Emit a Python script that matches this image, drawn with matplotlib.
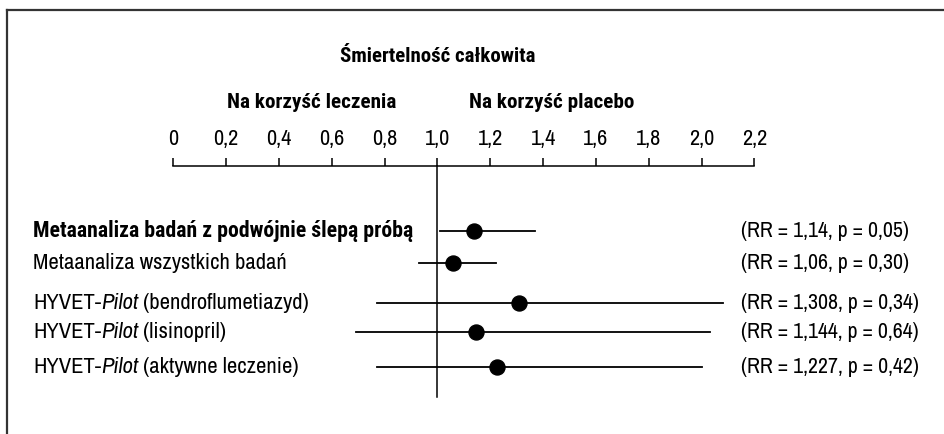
import matplotlib.pyplot as plt
from matplotlib import transforms
from matplotlib import font_manager as fm

plt.rcParams['font.family'] = ['Archivo Narrow', 'DejaVu Sans']


def find_bold(families):
    # first condensed family that has a real static bold face
    for fam in families:
        best = None
        for f in fm.fontManager.ttflist:
            w = f.weight if isinstance(f.weight, int) else fm.weight_dict.get(f.weight, 400)
            if f.name == fam and f.style == "normal" and 600 <= w <= 800:
                if best is None or abs(w - 700) < abs(best[0] - 700):
                    best = (w, f.fname)
        if best:
            return best[1]
    return None


bold_path = find_bold(["Archivo Narrow", "Roboto Condensed", "PT Sans Narrow",
                       "Liberation Sans Narrow", "Barlow Semi Condensed", "Asap Condensed"])


def bold(size):
    if bold_path:
        return fm.FontProperties(fname=bold_path, size=size)
    return fm.FontProperties(family="DejaVu Sans", weight="bold", size=size)


# Forest plot data (relative risk with 95% CI)
labels = [
    ("Metaanaliza badań z podwójnie ślepą próbą", None, None),
    ("Metaanaliza wszystkich badań", None, None),
    ("HYVET-", "Pilot", " (bendroflumetiazyd)"),
    ("HYVET-", "Pilot", " (lisinopril)"),
    ("HYVET-", "Pilot", " (aktywne leczenie)"),
]
rr = [1.14, 1.06, 1.308, 1.144, 1.227]
ci_low = [1.01, 0.93, 0.77, 0.69, 0.77]
ci_high = [1.37, 1.22, 2.08, 2.03, 2.00]
rr_text = ["1,14", "1,06", "1,308", "1,144", "1,227"]
p_text = ["0,05", "0,30", "0,34", "0,64", "0,42"]
ticks = [0, 0.2, 0.4, 0.6, 0.8, 1.0, 1.2, 1.4, 1.6, 1.8, 2.0, 2.2]

W, H = 944, 434
fig = plt.figure(figsize=(W / 100, H / 100), dpi=100)

# axes: x 0..2.2 between px 173..754, y from axis line (166) to 397
top_px, bot_px = 166, 397
ax = fig.add_axes([173.4 / W, 1 - bot_px / H, (754.4 - 173.4) / W, (bot_px - top_px) / H])
ax.set_xlim(0, 2.2)
ax.set_ylim(bot_px, top_px)
row_y = [231, 263, 303, 332, 367]

for s in ("left", "right", "bottom"):
    ax.spines[s].set_visible(False)
ax.spines["top"].set_linewidth(1.1)
ax.xaxis.set_ticks_position("top")
ax.set_xticks(ticks)
ax.set_xticklabels([f"{t:.1f}".replace(".", ",") if t else "0" for t in ticks])
ax.tick_params(axis="x", direction="out", length=6, width=1.1, pad=6, labelsize=16)
ax.set_yticks([])
ax.patch.set_alpha(0)

ax.plot([1.0, 1.0], [top_px, bot_px], color="black", lw=1.1, clip_on=False)

for i in range(len(rr)):
    y = row_y[i]
    ax.plot([ci_low[i], ci_high[i]], [y, y], color="black", lw=1.3, clip_on=False)
    ax.plot(rr[i], y, "o", color="black", ms=10.8, clip_on=False)

fs = 16.3
trans = transforms.blended_transform_factory(fig.transFigure, ax.transData)
for i, (a, b, c) in enumerate(labels):
    y = row_y[i]
    if b is None:
        if i == 0:
            ax.text(33 / W, y, a, transform=trans, va="center", ha="left", fontproperties=bold(15.7))
        else:
            ax.text(33 / W, y, a, transform=trans, va="center", ha="left", fontsize=fs)
    else:
        t = ax.text(33 / W, y, a, transform=trans, va="center", ha="left", fontsize=fs)
        t = ax.annotate(b, xy=(1, 0), xycoords=t, va="bottom", ha="left",
                        fontsize=fs, fontstyle="italic")
        ax.annotate(c, xy=(1, 0), xycoords=t, va="bottom", ha="left", fontsize=fs)
    ax.text(741 / W, y, f"(RR = {rr_text[i]}, p = {p_text[i]})", transform=trans,
            va="center", ha="left", fontsize=15.7)

# headings
hd = transforms.blended_transform_factory(ax.transData, fig.transFigure)
ax.text(1.0, 1 - 57 / H, "Śmiertelność całkowita", transform=hd,
        ha="center", va="center", fontproperties=bold(15))
ax.text(0.846, 1 - 103 / H, "Na korzyść leczenia", transform=hd, ha="right", va="center",
        fontproperties=bold(15.2))
ax.text(1.12, 1 - 103 / H, "Na korzyść placebo", transform=hd, ha="left", va="center",
        fontproperties=bold(15.2))

# frame (top and left edges)
fig.add_artist(plt.Line2D([7 / W, 1], [1 - 10 / H, 1 - 10 / H], color="#333333", lw=1.6))
fig.add_artist(plt.Line2D([7 / W, 7 / W], [0, 1 - 10 / H], color="#333333", lw=1.6))

fig.savefig("out.png", dpi=100)
